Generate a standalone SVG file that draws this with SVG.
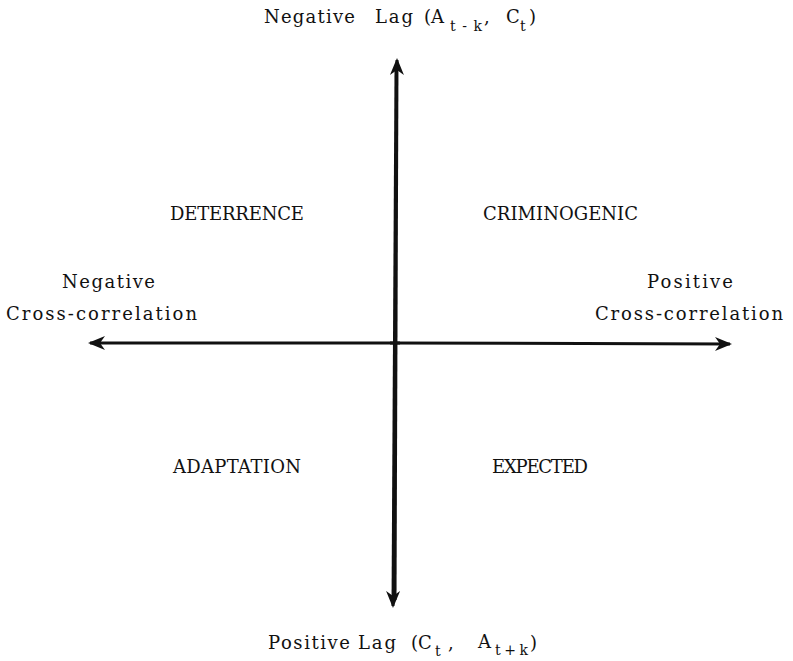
<svg xmlns="http://www.w3.org/2000/svg" width="793" height="661" viewBox="0 0 793 661">
<style>
text{font-family:"DejaVu Serif","Liberation Serif",serif;fill:#111;font-size:18px}
.sub{font-size:14px}
.axis{stroke:#111;stroke-width:3;fill:none}
</style>
<defs>
<marker id="ah" markerUnits="userSpaceOnUse" markerWidth="18" markerHeight="16" refX="15" refY="7" orient="auto" viewBox="0 0 18 14">
<path d="M17,7 L0,0 L5,7 L0,14 Z" fill="#111"/>
</marker>
</defs>
<rect width="793" height="661" fill="#fff"/>
<g id="connectors">
<line class="axis" x1="395" y1="600" x2="397" y2="60" marker-end="url(#ah)"/>
<line class="axis" x1="396" y1="70" x2="393" y2="606" marker-end="url(#ah)"/>
<line class="axis" x1="400" y1="343" x2="90" y2="343" marker-end="url(#ah)"/>
<line class="axis" x1="390" y1="343" x2="730" y2="344" marker-end="url(#ah)"/>
</g>
<g id="top-label">
<text x="264" y="23" textLength="91" lengthAdjust="spacing">Negative</text>
<text x="375" y="23" textLength="38" lengthAdjust="spacing">Lag</text>
<text x="424" y="23">(A</text>
<text class="sub" x="450" y="31" textLength="32" lengthAdjust="spacing">t-k</text>
<text x="484" y="23">,</text>
<text x="506" y="23">C</text>
<text class="sub" x="520" y="31">t</text>
<text x="529" y="23">)</text>
</g>
<g id="bottom-label">
<text x="268" y="649" textLength="82" lengthAdjust="spacing">Positive</text>
<text x="358" y="649" textLength="38" lengthAdjust="spacing">Lag</text>
<text x="411" y="649">(C</text>
<text class="sub" x="435" y="656">t</text>
<text x="448" y="649">,</text>
<text x="478" y="648">A</text>
<text class="sub" x="495" y="655" textLength="33" lengthAdjust="spacing">t+k</text>
<text x="530" y="649">)</text>
</g>
<g id="negative-cross">
<text x="62" y="288" textLength="93" lengthAdjust="spacing">Negative</text>
<text x="6" y="320" textLength="191" lengthAdjust="spacing">Cross-correlation</text>
</g>
<g id="positive-cross">
<text x="647" y="288" textLength="86" lengthAdjust="spacing">Positive</text>
<text x="595" y="320" textLength="188" lengthAdjust="spacing">Cross-correlation</text>
</g>
<g id="deterrence"><text x="170" y="220" textLength="134" lengthAdjust="spacing">DETERRENCE</text></g>
<g id="criminogenic"><text x="483" y="220" textLength="155" lengthAdjust="spacing">CRIMINOGENIC</text></g>
<g id="adaptation"><text x="173" y="473" textLength="128" lengthAdjust="spacing">ADAPTATION</text></g>
<g id="expected"><text x="492" y="473" textLength="96" lengthAdjust="spacing">EXPECTED</text></g>
</svg>
